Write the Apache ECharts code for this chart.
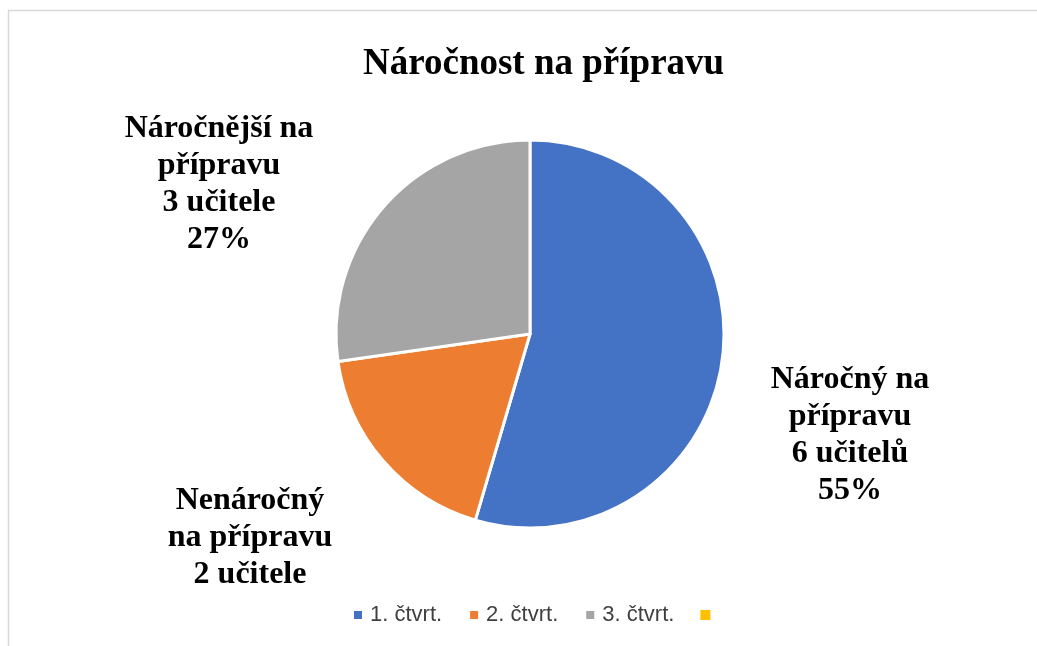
<!DOCTYPE html>
<html>
<head>
<meta charset="utf-8">
<script src="https://cdn.jsdelivr.net/npm/echarts@6/dist/echarts.min.js"></script>
<style>
  html, body { margin: 0; padding: 0; background: #fff; }
  #chart { width: 1037px; height: 646px; }
</style>
</head>
<body>
<div id="chart"></div>
<script>
// data
const categories = ['1. čtvrt.', '2. čtvrt.', '3. čtvrt.', ' ']
const values = [6, 2, 3, 0]
const labelTexts = [
  'Náročný na\npřípravu\n6 učitelů\n55%',
  'Nenáročný\nna přípravu\n2 učitele',
  'Náročnější na\npřípravu\n3 učitele\n27%',
  ''
]
const colors = ['#4472C4', '#ED7D31', '#A5A5A5', '#FFC000']

// where each label block is centred
const labelAnchors = [[850, 435], [250, 538], [219, 184], [0, 0]]

const chart = echarts.init(document.getElementById('chart'))

chart.setOption({
  animation: false,
  backgroundColor: '#fff',
  title: {
    text: 'Náročnost na přípravu',
    left: 358,
    top: 41,
    textStyle: {
      fontFamily: 'Liberation Serif',
      fontWeight: 'bold',
      fontSize: 37,
      color: '#000'
    }
  },
  graphic: [
    {
      type: 'rect',
      shape: { x: 8.5, y: 10.5, width: 1100, height: 700 },
      style: { fill: 'none', stroke: '#d9d9d9', lineWidth: 1.5 },
      silent: true
    }
  ],
  legend: {
    top: 599,
    left: 347,
    icon: 'rect',
    itemWidth: 10,
    itemHeight: 10,
    itemGap: 26,
    textStyle: {
      fontFamily: 'Liberation Sans',
      fontSize: 22,
      color: '#404040',
      padding: [0, 0, 0, 2]
    },
    data: categories
  },
  series: [
    {
      type: 'pie',
      center: [530, 334],
      radius: [0, 194],
      startAngle: 90,
      clockwise: true,
      avoidLabelOverlap: false,
      stillShowZeroSum: false,
      labelLine: { show: false },
      label: {
        show: true,
        position: 'outside',
        fontFamily: 'Liberation Serif',
        fontWeight: 'bold',
        fontSize: 32,
        lineHeight: 37,
        color: '#000',
        align: 'center',
        formatter: p => labelTexts[p.dataIndex]
      },
      labelLayout: params => {
        const a = labelAnchors[params.dataIndex]
        return { x: a[0], y: a[1], align: 'center', verticalAlign: 'middle' }
      },
      itemStyle: {
        borderColor: '#fff',
        borderWidth: 3
      },
      emphasis: { disabled: true },
      data: categories.map((name, i) => ({
        name: name,
        value: values[i],
        itemStyle: { color: colors[i], borderWidth: values[i] ? 3 : 0 },
        label: { show: values[i] > 0 }
      }))
    }
  ]
})
</script>
</body>
</html>
